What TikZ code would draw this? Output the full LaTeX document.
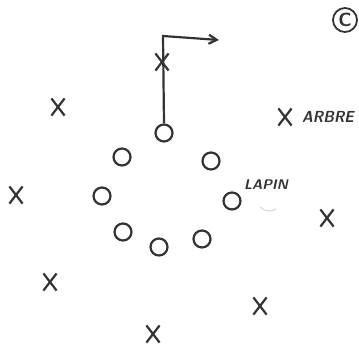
\documentclass[tikz,border=0pt]{standalone}
\usetikzlibrary{arrows.meta,shapes.misc}
\begin{document}
\begin{tikzpicture}[x=1pt,y=-1pt,
  ink/.style={draw=black!80,line width=2.2pt},
  pawn/.style={ink,circle,inner sep=0pt,minimum size=17pt},
  tree/.style={ink,cross out,inner sep=0pt,minimum width=11pt,minimum height=15pt},
  lbl/.style={text=black!80,inner sep=0pt}]
\useasboundingbox[fill=white] (0,0) rectangle (359,349);
% circles
\node[pawn] (c1) at (164,133) {};
\node[pawn] (c2) at (122,157) {};
\node[pawn] (c3) at (211,161) {};
\node[pawn] (c4) at (102,196) {};
\node[pawn] (c5) at (232,201) {};
\node[pawn] (c6) at (123,232) {};
\node[pawn] (c7) at (159,247) {};
\node[pawn] (c8) at (202,239) {};
% crosses
\node[tree] (x1) at (162,62) {};
\node[tree] (x2) at (58,107) {};
\node[tree] (x3) at (16,195) {};
\node[tree] (x4) at (285,117) {};
\node[tree] (x5) at (327,218) {};
\node[tree] (x6) at (50,282) {};
\node[tree] (x7) at (260,306) {};
\node[tree] (x8) at (153,334) {};
% labels
\node[lbl,anchor=west,xscale=0.92,font=\sffamily\bfseries\itshape\fontsize{16}{16}\selectfont] (arbre) at (302,117) {ARBRE};
\node[lbl,font=\sffamily\bfseries\itshape\fontsize{14}{14}\selectfont] (lapin) at (266,185) {LAPIN};
\node[ink,circle,inner sep=0pt,minimum size=24pt,line width=1.8pt,text=black!80,font=\sffamily\bfseries\fontsize{19}{19}\selectfont] (copy) at (345,20) {C};
% arrow
\coordinate (corner) at (163,36);
\coordinate (tip) at (219,40);
\draw[ink,-{Straight Barb[length=8pt,width=9pt]}] (c1.north) -- (corner) -- (tip);
% faint mark
\draw[gray!40,line width=0.8pt] (260,207) .. controls (265,212) and (272,212) .. (276,209);
\end{tikzpicture}
\end{document}
